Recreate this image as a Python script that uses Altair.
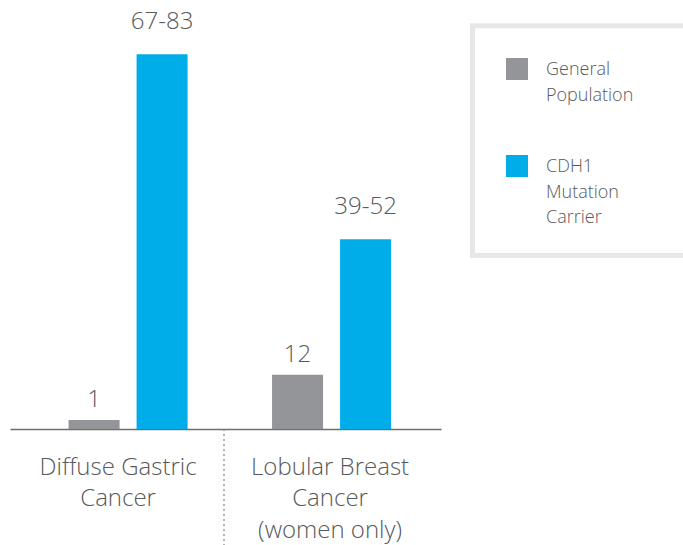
import json
import altair as alt
import pandas as pd

# ---- data ----
groups = ["Diffuse Gastric Cancer", "Lobular Breast Cancer (women only)"]
group_lines = [["Diffuse Gastric", "Cancer"], ["Lobular Breast", "Cancer", "(women only)"]]
series = ["General Population", "CDH1 Mutation Carrier"]
series_lines = [["General", "Population"], ["CDH1", "Mutation", "Carrier"]]
general_pop = [2, 12]        # bar heights as drawn
carrier = [83, 42]           # bar heights as drawn
general_labels = ["1", "12"]
carrier_labels = ["67-83", "39-52"]
colors = ["#939598", "#00ade9"]

FONT = "Open Sans"
TEXT = "#58595b"

rows = []
for i, g in enumerate(groups):
    rows.append(dict(group=g, series=series[0], value=general_pop[i], label=general_labels[i]))
    rows.append(dict(group=g, series=series[1], value=carrier[i], label=carrier_labels[i]))
df = pd.DataFrame(rows)

axis_expr = " : ".join(
    [f"datum.label == {json.dumps(g)} ? {json.dumps(l)}" for g, l in zip(groups[:-1], group_lines[:-1])]
    + [json.dumps(group_lines[-1])]
)
legend_expr = " : ".join(
    [f"datum.label == {json.dumps(s)} ? {json.dumps(l)}" for s, l in zip(series[:-1], series_lines[:-1])]
    + [json.dumps(series_lines[-1])]
)

x_scale = alt.Scale(paddingInner=0, paddingOuter=0.059, align=0.68)
x_enc = alt.X(
    "group:N",
    sort=groups,
    scale=x_scale,
    axis=alt.Axis(
        title=None,
        ticks=False,
        domain=True,
        domainColor="#6d6e71",
        domainWidth=1.5,
        labelFont=FONT,
        labelFontWeight=300,
        labelFontSize=24,
        labelColor=TEXT,
        labelLineHeight=31.5,
        labelPadding=26,
        labelAngle=0,
        labelLimit=400,
        labelOverlap=False,
        labelExpr=axis_expr,
        labelOffset={"condition": {"test": f"datum.value == {json.dumps(groups[0])}", "value": -10}, "value": -1.5},
    ),
)
xoff_enc = alt.XOffset("series:N", sort=series, scale=alt.Scale(paddingInner=0.25, paddingOuter=0.621))
y_scale = alt.Scale(domain=[0, 95], nice=False, zero=True)
y_enc = alt.Y("value:Q", scale=y_scale, axis=None)

base = alt.Chart(df)

bars = base.mark_bar().encode(
    x=x_enc,
    xOffset=xoff_enc,
    y=y_enc,
    color=alt.Color(
        "series:N",
        sort=series,
        scale=alt.Scale(domain=series, range=colors),
        legend=alt.Legend(
            orient="none",
            legendX=496,
            legendY=64,
            title=None,
            padding=0,
            symbolType="M-1,-1.545H1V0.455H-1Z",
            symbolSize=484,
            symbolStrokeWidth=0,
            symbolOpacity=1,
            labelFont=FONT,
            labelFontWeight=300,
            labelFontSize=18,
            labelColor=TEXT,
            labelBaseline="alphabetic",
            labelOffset=18,
            labelLimit=300,
            labelExpr=legend_expr,
            rowPadding=50,
        ),
    ),
)

text_gen = base.transform_filter(alt.datum.series == series[0]).mark_text(
    font=FONT, fontWeight=300, fontSize=24, color=TEXT, baseline="alphabetic", dy=-13
).encode(x=alt.X("group:N", sort=groups), xOffset=alt.XOffset("series:N", sort=series), y=y_enc, text="label:N")

text_car = base.transform_filter(alt.datum.series == series[1]).mark_text(
    font=FONT, fontWeight=300, fontSize=24, color=TEXT, baseline="alphabetic", dy=-25
).encode(x=alt.X("group:N", sort=groups), xOffset=alt.XOffset("series:N", sort=series), y=y_enc, text="label:N")

box = alt.Chart(pd.DataFrame({"k": [0]})).mark_rect(
    fill="white", fillOpacity=0, stroke="#e6e7e8", strokeWidth=5
).encode(x=alt.value(462.5), x2=alt.value(720), y=alt.value(25.8), y2=alt.value(255.5))

sep = alt.Chart(pd.DataFrame({"k": [0]})).mark_rule(
    color="#808285", strokeDash=[2, 3], strokeWidth=1.2
).encode(x=alt.value(214), y=alt.value(429), y2=alt.value(545))

chart = (
    alt.layer(box, sep, bars, text_gen, text_car)
    .properties(
        width=431,
        height=429,
        padding={"left": 10, "top": 0, "right": 242, "bottom": 116},
        autosize=alt.AutoSizeParams(type="none"),
        background="white",
    )
    .configure(style={"guide-label": {"lineHeight": 25.5}})
    .configure_view(strokeWidth=0, strokeOpacity=0)
)

chart.save("out.html", embed_options={"renderer": "svg", "actions": False})
